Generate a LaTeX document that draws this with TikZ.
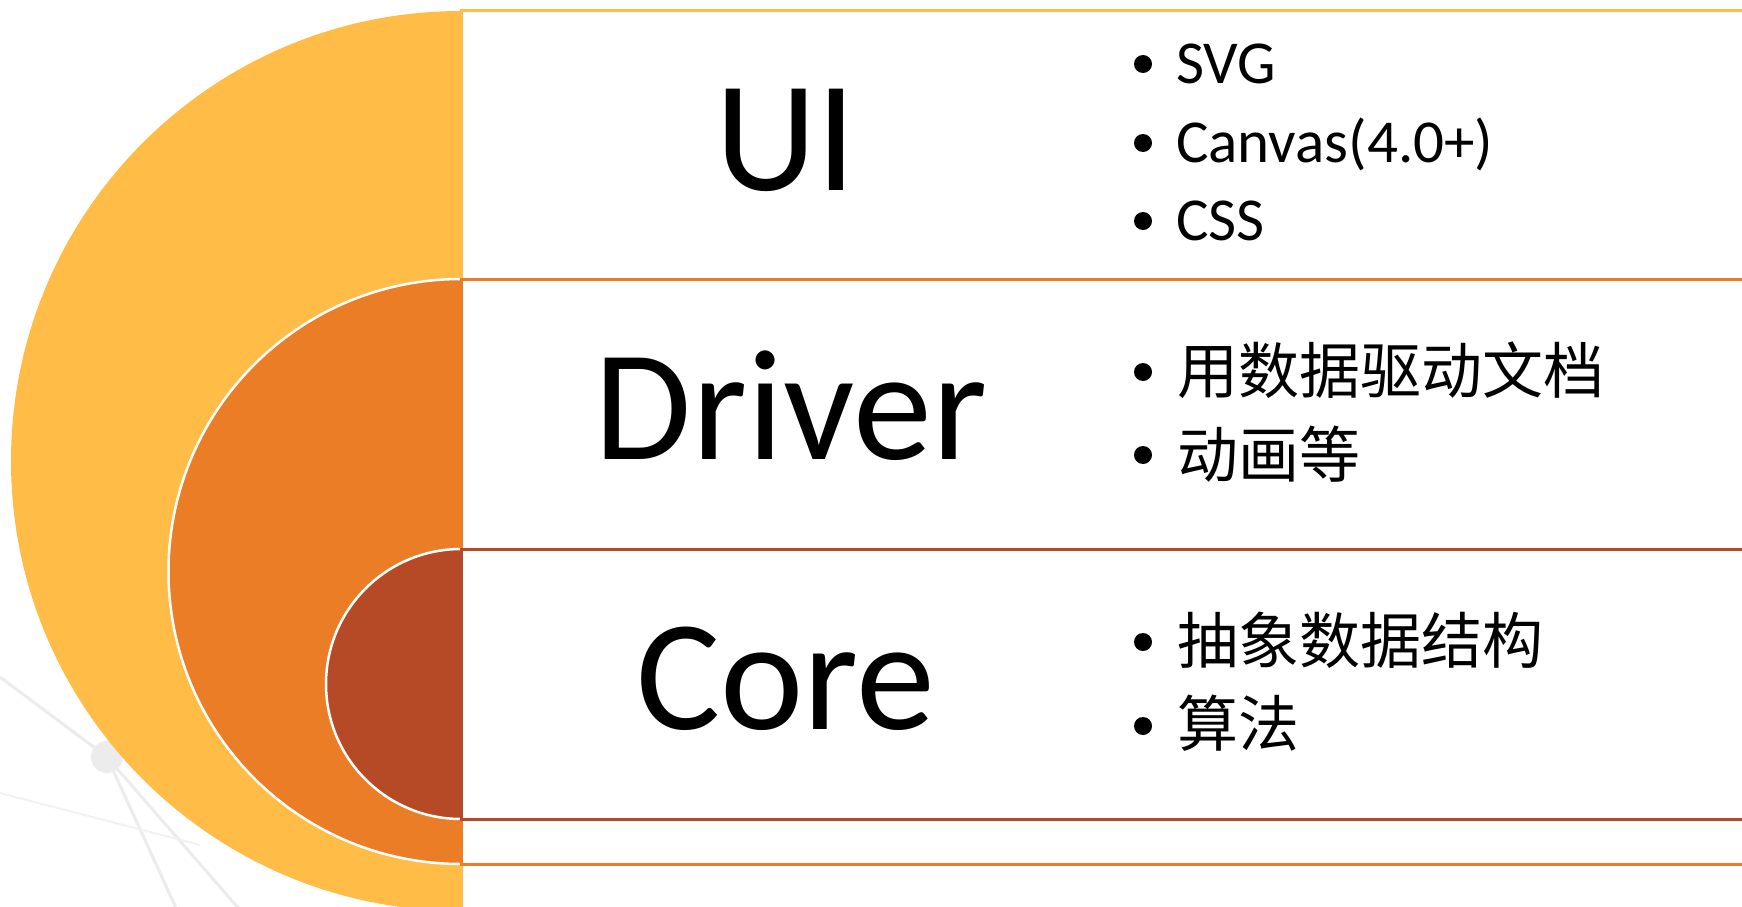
\documentclass[tikz,border=0pt]{standalone}
\usepackage{fontspec}
\setmainfont{Carlito}
\newfontfamily\cjk{Noto Sans CJK SC}
\definecolor{cy}{HTML}{FFBC47}
\definecolor{co}{HTML}{EA7D26}
\definecolor{cb}{HTML}{B64A26}
\definecolor{bgl}{HTML}{ECECEC}
\tikzset{
  title/.style={anchor=base, inner sep=0pt, font=\fontsize{158}{158}\selectfont},
  item/.style={anchor=base west, inner sep=0pt, font=\fontsize{61}{61}\selectfont},
  citem/.style={anchor=base west, inner sep=0pt, font=\fontsize{61}{61}\selectfont\cjk},
  arcline/.style={white, line width=2.5pt},
  boxline/.style={line width=3pt, fill=white},
}
\begin{document}
\begin{tikzpicture}[x=1pt,y=1pt]
\useasboundingbox (0,0) rectangle (1742,-907);
\clip (0,0) rectangle (1742,-907);
\fill[white] (0,0) rectangle (1742,-907);
% faint background network
\draw[bgl, line width=3pt] (0,-677) -- (107,-757) -- (200,-690);
\draw[bgl, line width=3pt] (107,-757) -- (177,-910);
\draw[bgl, line width=3pt] (107,-757) -- (240,-910);
\draw[bgl!70, line width=2pt] (0,-793) -- (200,-845);
\fill[bgl] (107,-757) circle (16);
% yellow layer
\fill[cy] (461,-11) arc[start angle=90, end angle=270, radius=450] -- cycle;
\draw[boxline, draw=cy] (461,-11) rectangle (1750,-915);
% orange layer
\fill[co] (461,-279) arc[start angle=90, end angle=270, radius=292.5] -- cycle;
\draw[arcline] (461,-279) arc[start angle=90, end angle=270, radius=292.5];
\draw[boxline, draw=co] (461,-279) rectangle (1750,-864);
% brown layer
\fill[cb] (461,-549) arc[start angle=90, end angle=270, radius=135] -- cycle;
\draw[arcline] (461,-549) arc[start angle=90, end angle=270, radius=135];
\draw[boxline, draw=cb] (461,-549) rectangle (1750,-819);
% titles
\node[title] (ui) at (786,-190) {UI};
\node[title] (driver) at (791,-459) {Driver};
\node[title] (core) at (786,-729) {Core};
% bullets
\foreach \y in {64,143,221,372,455,642,726} \fill (1143,-\y) circle (9);
\node[item] (svg) at (1176,-83) {SVG};
\node[item] (canvas) at (1176,-162) {Canvas(4.0+)};
\node[item] (css) at (1176,-240) {CSS};
\node[citem] (d1) at (1177,-393) {用数据驱动文档};
\node[citem] (d2) at (1177,-477) {动画等};
\node[citem] (c1) at (1177,-663) {抽象数据结构};
\node[citem] (c2) at (1177,-746) {算法};
\end{tikzpicture}
\end{document}
